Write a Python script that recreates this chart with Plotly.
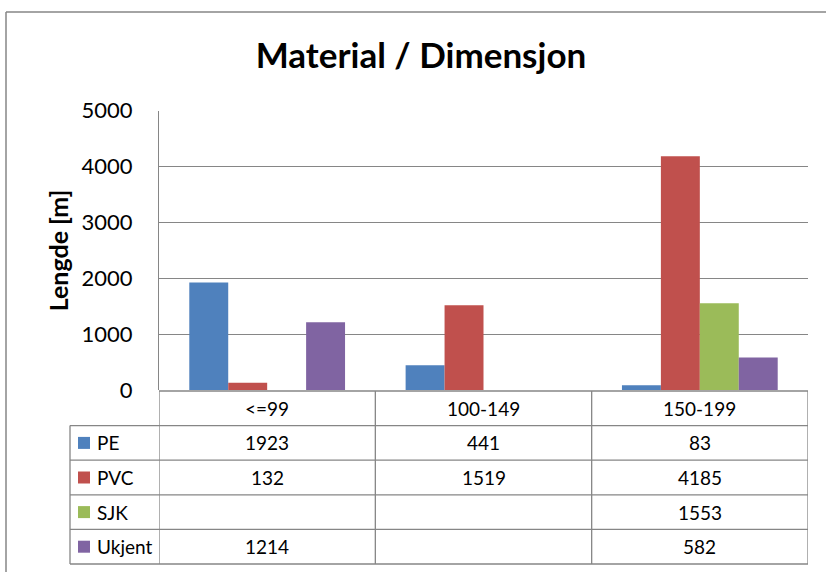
import plotly.graph_objects as go

# Data
categories = ["<=99", "100-149", "150-199"]
series_names = ["PE", "PVC", "SJK", "Ukjent"]
pe = [1923, 441, 83]
pvc = [132, 1519, 4185]
sjk = [None, None, 1553]
ukjent = [1214, None, 582]
series_values = [pe, pvc, sjk, ukjent]
colors = ["#4F81BD", "#C0504D", "#9BBB59", "#8064A2"]
y_ticks = [0, 1000, 2000, 3000, 4000, 5000]

W, H = 826, 572
FONT = "Lato"
GRID = "#868686"

# Layout geometry (pixels)
plot_left, plot_right = 159, 808
plot_top, plot_bottom = 110.7, 390
table_top, table_bottom = 391, 564
legend_left = 70
n_rows = 1 + len(series_names)
row_h = (table_bottom - table_top) / n_rows


def px(x):
    return x / W


def py(y):
    return 1 - y / H


fig = go.Figure()
for name, vals, col in zip(series_names, series_values, colors):
    fig.add_trace(go.Bar(
        x=list(range(len(categories))), y=vals, name=name,
        marker=dict(color=col, line=dict(width=0)),
        showlegend=False,
    ))

shapes = []
annotations = []

# outer chart border: left and top edges
shapes.append(dict(type="line", xref="paper", yref="paper",
                   x0=px(6), x1=px(6), y0=0, y1=py(12),
                   line=dict(color=GRID, width=1.5)))
shapes.append(dict(type="line", xref="paper", yref="paper",
                   x0=px(6), x1=1, y0=py(12), y1=py(12),
                   line=dict(color=GRID, width=1.5)))

# data table: horizontal rules
for r in range(n_rows + 1):
    y = table_top + r * row_h
    x0 = plot_left if r == 0 else legend_left
    shapes.append(dict(type="line", xref="paper", yref="paper",
                       x0=px(x0), x1=px(plot_right), y0=py(y), y1=py(y),
                       line=dict(color=GRID, width=1.3)))
# vertical rules at category boundaries (data coords of the x axis)
for i in range(len(categories) + 1):
    shapes.append(dict(type="line", xref="x", yref="paper",
                       x0=i - 0.5, x1=i - 0.5, y0=py(table_top), y1=py(table_bottom),
                       line=dict(color=GRID, width=1.3)))
# legend column left edge
shapes.append(dict(type="line", xref="paper", yref="paper",
                   x0=px(legend_left), x1=px(legend_left),
                   y0=py(table_top + row_h), y1=py(table_bottom),
                   line=dict(color=GRID, width=1.3)))

txt_font = dict(family=FONT, size=19, color="#000000")

# header row with category names
for i, c in enumerate(categories):
    annotations.append(dict(xref="x", yref="paper", x=i, y=py(table_top + row_h / 2),
                            xanchor="center", yanchor="middle",
                            text=c, showarrow=False, font=txt_font))

# series rows: legend key, name and values
for r, (name, vals, col) in enumerate(zip(series_names, series_values, colors)):
    yc = table_top + (r + 1.5) * row_h
    shapes.append(dict(type="rect", xref="paper", yref="paper",
                       x0=px(78), x1=px(90), y0=py(yc + 6), y1=py(yc - 6),
                       fillcolor=col, line=dict(width=0)))
    annotations.append(dict(xref="paper", yref="paper", x=px(95), y=py(yc),
                            xanchor="left", yanchor="middle",
                            text=name, showarrow=False, font=txt_font))
    for i, v in enumerate(vals):
        if v is None:
            continue
        annotations.append(dict(xref="x", yref="paper", x=i, y=py(yc),
                                xanchor="center", yanchor="middle",
                                text=str(v), showarrow=False, font=txt_font))

# axis title
annotations.append(dict(xref="paper", yref="paper", x=px(58),
                        y=py((plot_top + plot_bottom) / 2),
                        xanchor="center", yanchor="middle",
                        text="<b>Lengde [m]</b>", textangle=-90, showarrow=False,
                        font=dict(family=FONT, size=25, color="#000000")))

fig.update_layout(
    width=W, height=H,
    margin=dict(l=0, r=0, t=0, b=0, pad=0, autoexpand=False),
    paper_bgcolor="#ffffff", plot_bgcolor="#ffffff",
    title=dict(text="<b>Material / Dimensjon</b>", x=px(421), xanchor="center",
               y=py(56), yanchor="middle", yref="container",
               font=dict(family=FONT, size=35, color="#000000")),
    bargap=0.28, bargroupgap=0,
    barmode="group",
    shapes=shapes, annotations=annotations,
    xaxis=dict(domain=[px(plot_left), px(plot_right)], range=[-0.5, 2.5],
               showticklabels=False, showgrid=False, zeroline=False,
               showline=False, fixedrange=True, automargin=False),
    yaxis=dict(domain=[py(plot_bottom), py(plot_top)], range=[0, 5000],
               tickvals=y_ticks, ticktext=[str(t) for t in y_ticks],
               showgrid=True, gridcolor=GRID, gridwidth=1.3,
               zeroline=False, showline=True, linecolor=GRID, linewidth=1.3,
               ticks="outside", ticklen=0, ticklabelstandoff=21, automargin=False,
               tickfont=dict(family=FONT, size=22, color="#000000")),
)

fig.write_html("out.html")
